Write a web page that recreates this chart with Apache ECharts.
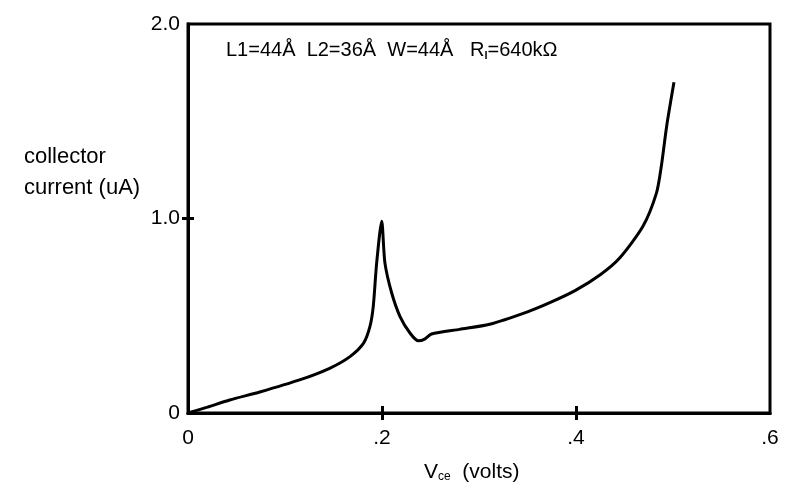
<!DOCTYPE html>
<html><head><meta charset="utf-8">
<script src="https://cdn.jsdelivr.net/npm/echarts@6/dist/echarts.min.js"></script>
<style>html,body{margin:0;padding:0;background:#fff}#c{width:790px;height:493px}</style>
</head><body><div id="c"></div>
<script>
// Collector current (uA) vs Vce (volts)
const vce = [0, 0.02, 0.043, 0.074, 0.115, 0.146, 0.167, 0.181, 0.1876, 0.191, 0.1945, 0.1997, 0.203, 0.21, 0.2186, 0.229, 0.2375, 0.244, 0.251, 0.28, 0.311, 0.35, 0.373, 0.399, 0.425, 0.445, 0.469, 0.483, 0.488, 0.4935, 0.501];
const current = [0, 0.03, 0.067, 0.108, 0.17, 0.23, 0.29, 0.359, 0.445, 0.548, 0.772, 0.986, 0.772, 0.617, 0.496, 0.41, 0.371, 0.38, 0.406, 0.43, 0.456, 0.52, 0.567, 0.629, 0.711, 0.797, 0.96, 1.132, 1.27, 1.476, 1.70];
const xTicks = [0, 0.2, 0.4, 0.6];
const yTicks = [0, 1, 2];

const font = 'Liberation Sans, Arial, Helvetica, sans-serif';
const fmtX = v => v === 0 ? '0' : ('.' + Math.round(v * 10));
const fmtY = v => v === 0 ? '0' : v.toFixed(1);

const chart = echarts.init(document.getElementById('c'));
const baseX = {
  type: 'value', min: 0, max: 0.6, interval: 0.2, position: 'bottom',
  splitLine: { show: false },
  axisLine: { show: true, onZero: false, lineStyle: { color: '#000', width: 3 } }
};
const baseY = {
  type: 'value', min: 0, max: 2, interval: 1, position: 'left',
  splitLine: { show: false },
  axisLine: { show: true, onZero: false, lineStyle: { color: '#000', width: 3 } }
};
const tickStyle = { color: '#000', width: 3 };
chart.setOption({
  animation: false,
  backgroundColor: '#fff',
  grid: { left: 188, right: 20, top: 24, bottom: 80, show: true, borderColor: '#000', borderWidth: 3 },
  title: [
    { text: '{n|L1=44Å  L2=36Å  W=44Å   R}{s|l}{n|=640kΩ}', left: 221, top: 35,
      textStyle: { rich: { n: { fontFamily: font, fontSize: 20, color: '#000', fontWeight: 'normal' }, s: { fontFamily: font, fontSize: 11, color: '#000', padding: [10, 0, 0, 0] } } } },
    { text: 'collector\ncurrent (uA)', left: 19, top: 136,
      textStyle: { fontFamily: font, fontSize: 22, color: '#000', fontWeight: 'normal', lineHeight: 31 } },
    { text: '{n|V}{s|ce}{n|  (volts)}', left: 419, top: 456,
      textStyle: { rich: { n: { fontFamily: font, fontSize: 21, color: '#000', fontWeight: 'normal' }, s: { fontFamily: font, fontSize: 12, color: '#000', fontWeight: 'normal', padding: [10, 0, 0, 0] } } } }
  ],
  xAxis: [
    Object.assign({}, baseX, {
      axisTick: { show: true, inside: true, length: 7, lineStyle: tickStyle, customValues: [0.2, 0.4] },
      axisLabel: { show: true, margin: 15, fontFamily: font, fontSize: 21, color: '#000', formatter: fmtX, customValues: xTicks }
    }),
    Object.assign({}, baseX, {
      axisTick: { show: true, inside: false, length: 7, lineStyle: tickStyle, customValues: [0.2, 0.4] },
      axisLabel: { show: false }
    })
  ],
  yAxis: [
    Object.assign({}, baseY, {
      axisTick: { show: true, inside: true, length: 6, lineStyle: tickStyle, customValues: [1] },
      axisLabel: { show: true, margin: 8, fontFamily: font, fontSize: 21, color: '#000', formatter: fmtY, customValues: yTicks }
    }),
    Object.assign({}, baseY, {
      axisTick: { show: true, inside: false, length: 6, lineStyle: tickStyle, customValues: [1] },
      axisLabel: { show: false }
    })
  ],
  series: [{
    type: 'line', xAxisIndex: 0, yAxisIndex: 0,
    data: vce.map((v, i) => [v, current[i]]),
    smooth: 0.25, showSymbol: false,
    lineStyle: { color: '#000', width: 3 }
  }]
});
</script></body></html>
